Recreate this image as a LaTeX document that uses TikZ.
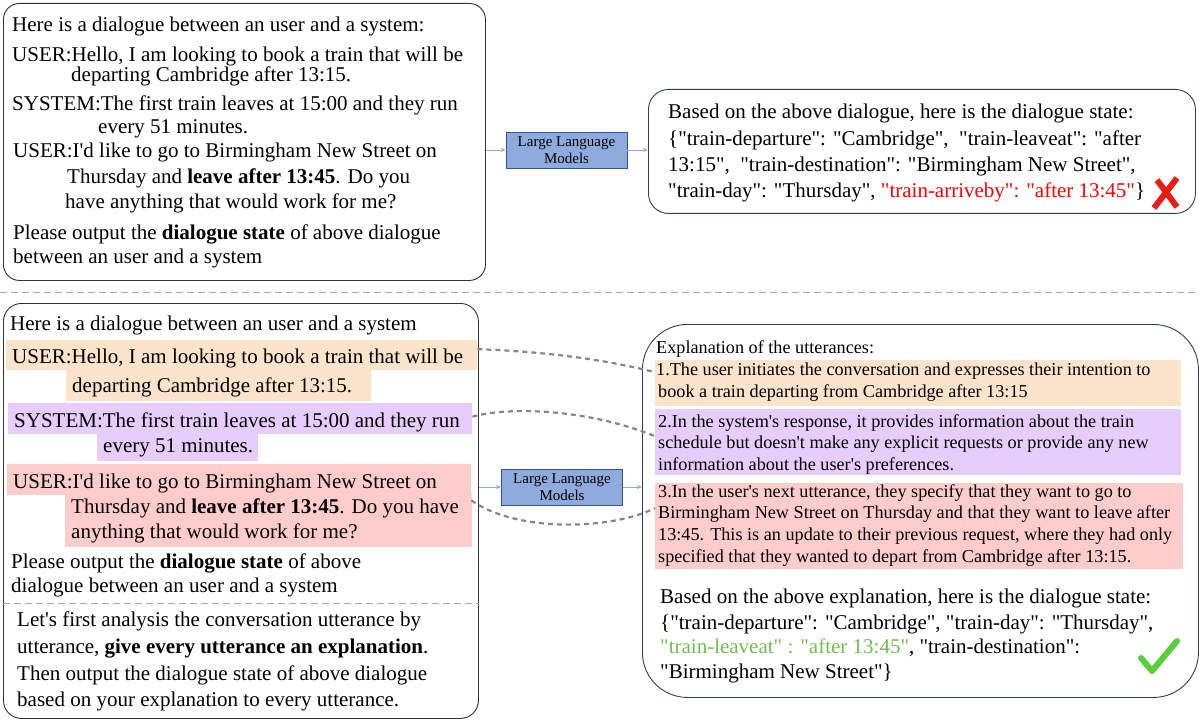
\documentclass[tikz,border=0pt]{standalone}
\usepackage{fontspec}
\setmainfont{Liberation Serif}[Ligatures=TeXOff]
\usepackage{xcolor}
\usetikzlibrary{positioning,arrows.meta,calc}

\definecolor{peach}{RGB}{252,228,203}
\definecolor{lavender}{RGB}{231,205,251}
\definecolor{rose}{RGB}{255,204,204}
\definecolor{llmfill}{RGB}{143,170,220}
\definecolor{llmedge}{RGB}{47,85,151}
\definecolor{flowblue}{RGB}{143,170,220}
\definecolor{navy}{RGB}{47,60,90}
\definecolor{okgreen}{RGB}{112,190,80}
\definecolor{tick}{RGB}{90,205,60}
\definecolor{cross}{RGB}{230,30,20}

\begin{document}
\begin{tikzpicture}[x=1pt,y=-1pt,
    panel/.style={draw=black!80,line width=0.9pt,anchor=north west,inner sep=0},
    llm/.style={draw=llmedge,fill=llmfill,line width=0.8pt,align=center,inner sep=0,
        minimum width=121pt,minimum height=36pt,font=\fontsize{15}{17}\selectfont},
    flow/.style={draw=flowblue,line width=0.7pt,-{Stealth[length=5pt,width=4pt]}},
    link/.style={draw=gray!95,line width=2.2pt,dash pattern=on 5pt off 4pt},
    sep/.style={draw=gray!70,line width=1pt,dash pattern=on 7pt off 4pt},
    hl/.style={anchor=north west,inner sep=0,draw=none},
    txt/.style={anchor=base west,inner sep=0,font=\fontsize{21}{24}\selectfont},
    note/.style={anchor=base west,inner sep=0,font=\fontsize{18.2}{21}\selectfont}]
\useasboundingbox (0,0) rectangle (1199,722);

% top half: plain prompt
\node[panel,rounded corners=16pt,minimum width=482pt,minimum height=277pt] (q1) at (3,3) {};
\node[txt] (q1a) at (12,32) {Here is a dialogue between an user and a system:};
\node[txt] (q1b) at (12,62) {USER:Hello, I am looking to book a train that will be};
\node[txt] (q1c) at (71,82) {departing Cambridge after 13:15.};
\node[txt] (q1d) at (12,111) {SYSTEM:The first train leaves at 15:00 and they run};
\node[txt] (q1e) at (98,134) {every 51 minutes.};
\node[txt] (q1f) at (13,158) {USER:I'd like to go to Birmingham New Street on};
\node[txt] (q1g) at (67,184) {Thursday and \textbf{leave after 13:45}. Do you};
\node[txt] (q1h) at (65,209) {have anything that would work for me?};
\node[txt] (q1i) at (13,239) {Please output the \textbf{dialogue state} of above dialogue};
\node[txt] (q1j) at (13,263) {between an user and a system};

\node[llm] (l1) at (566.5,150) {Large Language\\Models};

\node[panel,draw=navy,rounded corners=20pt,minimum width=547pt,minimum height=124pt] (a1) at (648,89) {};
\node[txt] (a1a) at (668,119) {Based on the above dialogue, here is the dialogue state:};
\node[txt] (a1b) at (668,146) {\{"train-departure": "Cambridge",~ "train-leaveat": "after};
\node[txt] (a1c) at (668,172) {13:15",~ "train-destination": "Birmingham New Street",};
\node[txt] (a1d) at (668,198) {"train-day": "Thursday", \textcolor{red}{"train-arriveby": "after 13:45"}\}};
\draw[cross,line width=6pt] (1177,178) -- (1154,208);
\draw[cross,line width=6pt] (1157,180) -- (1177,207);

\draw[flow] (q1.east |- l1.west) -- (l1.west);
\draw[flow] (l1.east) -- (l1.east -| a1.west);

\draw[sep] (0,292) -- (1199,292);

% bottom half: prompt with explanations
\node[panel,rounded corners=18pt,minimum width=475pt,minimum height=415pt] (q2) at (3,303) {};
\node[hl,fill=peach,minimum width=471pt,minimum height=30pt] (u1) at (6,340) {};
\node[hl,fill=peach,minimum width=305pt,minimum height=31pt] (u2) at (66,370) {};
\node[hl,fill=lavender,minimum width=464pt,minimum height=31pt] (s1) at (8,403) {};
\node[hl,fill=lavender,minimum width=161pt,minimum height=27pt] (s2) at (97,434) {};
\node[hl,fill=rose,minimum width=464pt,minimum height=31pt] (r1) at (7,464) {};
\node[hl,fill=rose,minimum width=407pt,minimum height=53pt] (r2) at (65,494) {};

\node[txt] (q2a) at (10,330) {Here is a dialogue between an user and a system};
\node[txt] (q2b) at (12,363) {USER:Hello, I am looking to book a train that will be};
\node[txt] (q2c) at (72,392) {departing Cambridge after 13:15.};
\node[txt] (q2d) at (14,427) {SYSTEM:The first train leaves at 15:00 and they run};
\node[txt] (q2e) at (103,452) {every 51 minutes.};
\node[txt] (q2f) at (13,488) {USER:I'd like to go to Birmingham New Street on};
\node[txt] (q2g) at (71,513) {Thursday and \textbf{leave after 13:45}. Do you have};
\node[txt] (q2h) at (71,538) {anything that would work for me?};
\node[txt] (q2i) at (11,568) {Please output the \textbf{dialogue state} of above};
\node[txt] (q2j) at (11,592) {dialogue between an user and a system};
\coordinate (cut) at (0,603);
\draw[sep] (q2.west |- cut) -- (q2.east |- cut);
\node[txt] (q2k) at (17,626) {Let's first analysis the conversation utterance by};
\node[txt] (q2l) at (17,653) {utterance, \textbf{give every utterance an explanation}.};
\node[txt] (q2m) at (17,680) {Then output the dialogue state of above dialogue};
\node[txt] (q2n) at (17,706) {based on your explanation to every utterance.};

\node[llm] (l2) at (562,487) {Large Language\\Models};

\node[panel,draw=navy,rounded corners=45pt,minimum width=556pt,minimum height=373pt] (a2) at (642,324) {};
\node[hl,fill=peach,minimum width=526pt,minimum height=46pt] (e1) at (655,360) {};
\node[hl,fill=lavender,minimum width=526pt,minimum height=66pt] (e2) at (655,409) {};
\node[hl,fill=rose,minimum width=528pt,minimum height=86pt] (e3) at (655,483) {};

\node[note] (a2a) at (656,353) {Explanation of the utterances:};
\node[note] (a2b) at (656,375) {1.The user initiates the conversation and expresses their intention to};
\node[note] (a2c) at (658,397) {book a train departing from Cambridge after 13:15};
\node[note] (a2d) at (658,427) {2.In the system's response, it provides information about the train};
\node[note] (a2e) at (658,448) {schedule but doesn't make any explicit requests or provide any new};
\node[note] (a2f) at (658,470) {information about the user's preferences.};
\node[note] (a2g) at (658,497) {3.In the user's next utterance, they specify that they want to go to};
\node[note] (a2h) at (658,518) {Birmingham New Street on Thursday and that they want to leave after};
\node[note] (a2i) at (658,540) {13:45. This is an update to their previous request, where they had only};
\node[note] (a2j) at (658,562) {specified that they wanted to depart from Cambridge after 13:15.};
\node[txt] (a2k) at (660,603) {Based on the above explanation, here is the dialogue state:};
\node[txt] (a2l) at (660,629) {\{"train-departure": "Cambridge", "train-day": "Thursday",};
\node[txt] (a2m) at (660,653) {\textcolor{okgreen}{"train-leaveat" : "after 13:45"}, "train-destination":};
\node[txt] (a2n) at (660,678) {"Birmingham New Street"\}};
\draw[tick,line width=6pt,line cap=round,line join=round] (1141,658) -- (1152,671) -- (1177,641);

\draw[flow] (q2.east |- l2.west) -- (l2.west);
\draw[flow] (l2.east) -- (l2.east -| a2.west);

% dotted links utterance -> explanation
\draw[link] ([yshift=6pt]u1.east) .. controls +(60,2) and +(-55,-14) .. ([yshift=11pt]e1.west);
\draw[link] ([yshift=2pt]s1.east) .. controls +(35,-10) and +(-70,-28) .. ([yshift=6pt]e2.west);
\draw[link] ([yshift=-5pt]r1.south east) .. controls +(45,32) and +(-45,22) .. ([yshift=18pt]e3.west);
\end{tikzpicture}
\end{document}
